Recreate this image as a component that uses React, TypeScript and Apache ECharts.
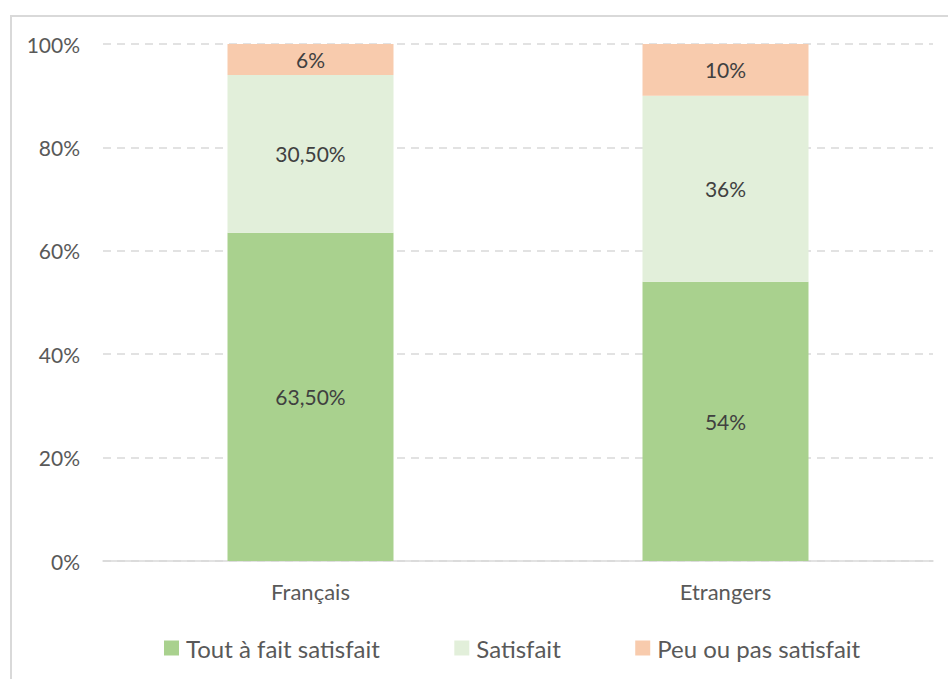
import React, { useEffect, useRef } from "react";
import * as echarts from "echarts";

const categories = ["Français", "Etrangers"];
const seriesNames = ["Tout à fait satisfait", "Satisfait", "Peu ou pas satisfait"];
const toutAFait = [63.5, 54];
const satisfait = [30.5, 36];
const peuOuPas = [6, 10];
const toutAFaitLabels = ["63,50%", "54%"];
const satisfaitLabels = ["30,50%", "36%"];
const peuOuPasLabels = ["6%", "10%"];
const yTicks = [0, 20, 40, 60, 80, 100];

const FONT = "Lato";
const colors = ["#A9D18E", "#E2EFDA", "#F8CBAD"];

export default function App() {
  const ref = useRef<HTMLDivElement>(null);
  useEffect(() => {
    if (!ref.current) return;
    const chart = echarts.init(ref.current, undefined, { renderer: "svg" });
    const mk = (name: string, vals: number[], labels: string[], color: string) => ({
      name,
      type: "bar",
      stack: "total",
      barWidth: "40%",
      data: vals,
      itemStyle: { color },
      label: {
        show: true,
        position: "inside",
        formatter: (p: any) => labels[p.dataIndex],
        color: "#404040",
        fontFamily: FONT,
        fontSize: 21,
      },
    });
    chart.setOption({
      animation: false,
      textStyle: { fontFamily: FONT },
      grid: { left: 103, right: 15, top: 44, bottom: 118, containLabel: false },
      legend: {
        left: 159,
        top: 631,
        itemWidth: 15,
        itemHeight: 15,
        itemGap: 74.5,
        icon: "rect",
        textStyle: { fontSize: 24, color: "#595959", fontFamily: FONT, padding: [0, 0, 0, 2] },
        data: seriesNames,
      },
      xAxis: {
        type: "category",
        data: categories,
        axisLine: { lineStyle: { color: "#D9D9D9", width: 1.5 } },
        axisTick: { show: false },
        axisLabel: { color: "#595959", fontSize: 22, fontFamily: FONT, margin: 19 },
      },
      yAxis: {
        type: "value",
        min: 0,
        max: 100,
        interval: 20,
        axisLine: { show: false },
        axisTick: { show: false },
        splitLine: { lineStyle: { color: "#D9D9D9", type: [8, 6], width: 1.5 } },
        axisLabel: {
          color: "#595959",
          fontSize: 21,
          fontFamily: FONT,
          margin: 23,
          formatter: (v: number) => (yTicks.includes(v) ? v + "%" : ""),
        },
      },
      series: [
        mk(seriesNames[0], toutAFait, toutAFaitLabels, colors[0]),
        mk(seriesNames[1], satisfait, satisfaitLabels, colors[1]),
        mk(seriesNames[2], peuOuPas, peuOuPasLabels, colors[2]),
      ],
    });
    return () => chart.dispose();
  }, []);
  return (
    <div style={{ position: "fixed", left: 0, top: 0, width: 948, height: 679, background: "#fff", overflow: "hidden" }}>
      <div
        style={{
          position: "absolute",
          left: 10,
          top: 15,
          width: 960,
          height: 700,
          border: "2px solid #D9D9D9",
          boxSizing: "border-box",
        }}
      />
      <div ref={ref} style={{ position: "absolute", left: 0, top: 0, width: 948, height: 679 }} />
    </div>
  );
}
